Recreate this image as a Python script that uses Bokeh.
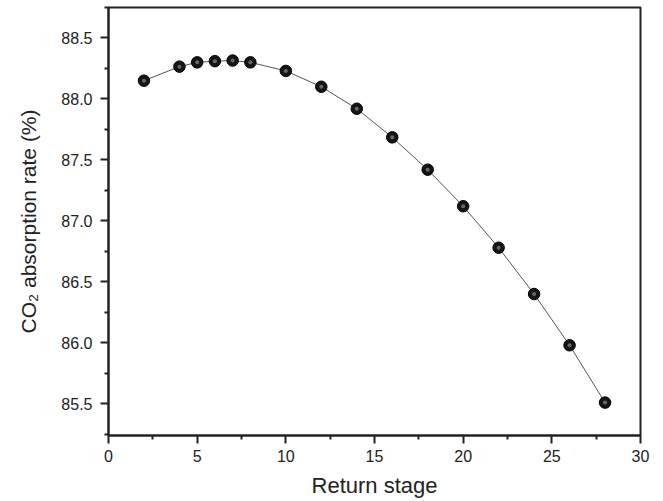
from bokeh.plotting import figure
from bokeh.embed import file_html
from bokeh.resources import INLINE
from bokeh.models import Range1d, FixedTicker, ColumnDataSource, CustomJSTickFormatter

stage = [2, 4, 5, 6, 7, 8, 10, 12, 14, 16, 18, 20, 22, 24, 26, 28]
absorption = [88.15, 88.265, 88.30, 88.31, 88.315, 88.30, 88.23, 88.10,
              87.92, 87.685, 87.42, 87.12, 86.78, 86.40, 85.98, 85.51]
x_ticks = [0, 5, 10, 15, 20, 25, 30]
y_ticks = [85.5, 86.0, 86.5, 87.0, 87.5, 88.0, 88.5]

src = ColumnDataSource(dict(x=stage, y=absorption))

p = figure(width=663, height=501, output_backend="svg", toolbar_location=None,
           x_range=Range1d(0, 30), y_range=Range1d(85.24, 88.75),
           min_border_left=108, min_border_right=23, min_border_top=7,
           min_border_bottom=66)
p.background_fill_color = "white"
p.border_fill_color = "white"
p.grid.visible = False
p.outline_line_color = "#222222"
p.outline_line_width = 2

p.line("x", "y", source=src, line_color="#555555", line_width=1)
p.scatter("x", "y", source=src, size=11.5, fill_color="#151515", line_color="#000000", line_width=1)
p.scatter("x", "y", source=src, size=4, fill_color="#a0a0a0", line_color=None, fill_alpha=0.6)

p.xaxis.ticker = FixedTicker(ticks=x_ticks, minor_ticks=[2.5 + 5 * i for i in range(6)])
p.yaxis.ticker = FixedTicker(ticks=y_ticks, minor_ticks=[85.25 + 0.5 * i for i in range(8)])
p.yaxis.formatter = CustomJSTickFormatter(code="return tick.toFixed(1);")

for ax in (p.xaxis, p.yaxis):
    ax.axis_line_width = 2
    ax.axis_line_color = "#222222"
    ax.major_tick_line_width = 2
    ax.minor_tick_line_width = 2
    ax.major_tick_line_color = "#222222"
    ax.minor_tick_line_color = "#222222"
    ax.major_tick_out = 8
    ax.major_tick_in = 0
    ax.minor_tick_out = 4
    ax.minor_tick_in = 0
    ax.major_label_text_font = "Liberation Sans"
    ax.major_label_text_font_size = "16px"
    ax.major_label_text_color = "#222222"
    ax.axis_label_text_font = "Liberation Sans"
    ax.axis_label_text_font_style = "normal"
    ax.axis_label_text_color = "#222222"

p.xaxis.axis_label_text_font_size = "22px"
p.yaxis.axis_label_text_font_size = "21px"
p.xaxis.axis_label = "Return stage"
p.yaxis.axis_label = "CO\u2082 absorption rate (%)"
p.xaxis.major_label_standoff = 6
p.xaxis.axis_label_standoff = 8
p.yaxis.major_label_standoff = 8
p.yaxis.axis_label_standoff = 18

open("out.html", "w").write(file_html(p, INLINE))
